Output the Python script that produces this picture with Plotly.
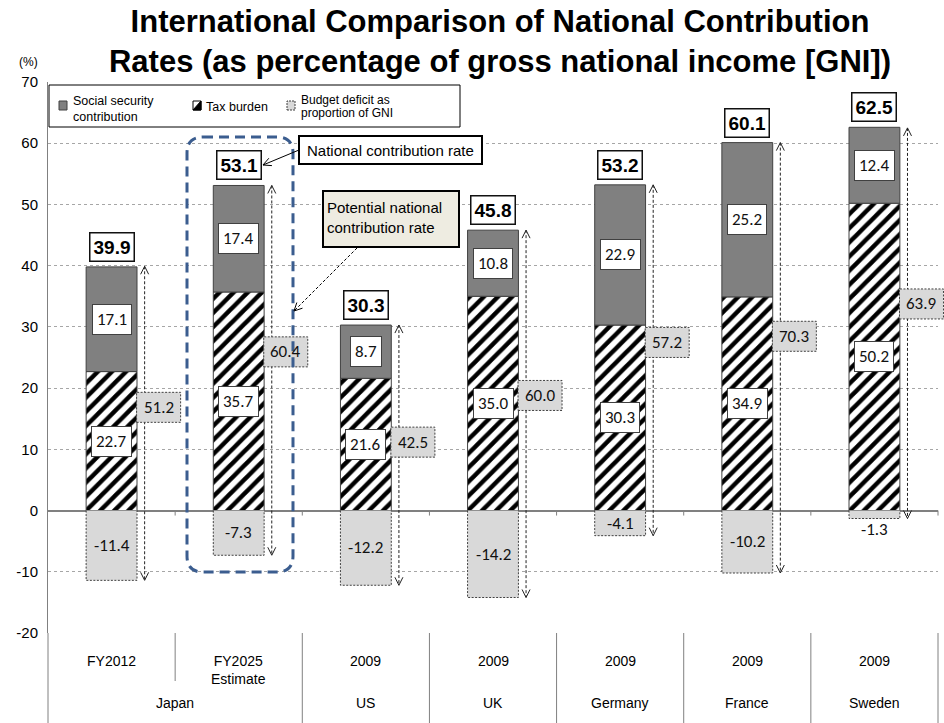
import plotly.graph_objects as go

# ---------------- data ----------------
groups = ["Japan", "US", "UK", "Germany", "France", "Sweden"]
group_span = [2, 1, 1, 1, 1, 1]
periods = ["FY2012", "FY2025<br>Estimate", "2009", "2009", "2009", "2009", "2009"]
tax_burden = [22.7, 35.7, 21.6, 35.0, 30.3, 34.9, 50.2]
social_security = [17.1, 17.4, 8.7, 10.8, 22.9, 25.2, 12.4]
budget_deficit = [-11.4, -7.3, -12.2, -14.2, -4.1, -10.2, -1.3]
national_rate = [39.9, 53.1, 30.3, 45.8, 53.2, 60.1, 62.5]
potential_rate = [51.2, 60.4, 42.5, 60.0, 57.2, 70.3, 63.9]
y_ticks = [-20, -10, 0, 10, 20, 30, 40, 50, 60, 70]

# ---------------- layout constants ----------------
FW, FH = 944, 723
ML, MR, MT, MB = 48, 6, 82, 90
PW, PH = FW - ML - MR, FH - MT - MB
YMIN, YMAX = -20, 70
N = len(periods)
XPU = PW / N                 # pixels per x unit
YPU = PH / (YMAX - YMIN)     # pixels per y unit
BAR_W = 0.4
ARROW_DX = 0.26
PLABEL_DX = 0.37

FONT = "Liberation Sans, Arial, sans-serif"
NUMFONT = "Carlito, Lato, Calibri, sans-serif"


def xpx(v):
    return ML + (v + 0.5) * XPU


def pxp(xp):
    return (xp - ML) / PW


def pyp(yp):
    return (MT + PH - yp) / PH


def P(xp, yp):
    return f"{pxp(xp):.5f},{pyp(yp):.5f}"


x = list(range(N))
fig = go.Figure()

# ---------------- bars ----------------
fig.add_bar(x=x, y=tax_burden, width=BAR_W, name="Tax burden",
            marker=dict(color="white",
                        pattern=dict(shape="/", fgcolor="black", bgcolor="white",
                                     size=10, solidity=0.45, fillmode="replace"),
                        line=dict(color="#404040", width=1)))
fig.add_bar(x=x, y=social_security, width=BAR_W, name="Social security contribution",
            marker=dict(color="#808080", line=dict(color="#404040", width=1)))
fig.add_bar(x=x, y=budget_deficit, width=BAR_W, name="Budget deficit as proportion of GNI",
            marker=dict(color="#d9d9d9", line=dict(width=0)))

# dotted outline of deficit bars
ox, oy = [], []
h = BAR_W / 2
for i, d in enumerate(budget_deficit):
    ox += [i - h, i - h, i + h, i + h, None]
    oy += [0, d, d, 0, None]
fig.add_scatter(x=ox, y=oy, mode="lines", hoverinfo="skip",
                line=dict(color="#404040", width=1, dash="2px,1.5px"))

# potential rate arrows (dashed shaft + open chevrons)
sx, sy, cxs, cys = [], [], [], []
cx, cy = 4 / XPU, 8 / YPU
for i in range(N):
    xa = i + ARROW_DX
    top, bot = national_rate[i], budget_deficit[i]
    sx += [xa, xa, None]
    sy += [top, bot, None]
    cxs += [xa - cx, xa, xa + cx, None, xa - cx, xa, xa + cx, None]
    cys += [top - cy, top, top - cy, None, bot + cy, bot, bot + cy, None]
fig.add_scatter(x=sx, y=sy, mode="lines", hoverinfo="skip",
                line=dict(color="#222222", width=1, dash="3px,2px"))
fig.add_scatter(x=cxs, y=cys, mode="lines", hoverinfo="skip",
                line=dict(color="#222222", width=1))

shapes = []
annotations = []


def ptext(txt, xp, yp, size=14, xanchor="center", yanchor="middle", family=FONT, **kw):
    annotations.append(dict(x=pxp(xp), y=pyp(yp), xref="paper", yref="paper",
                            showarrow=False, xanchor=xanchor, yanchor=yanchor, text=txt,
                            font=dict(family=family, size=size, color="black"), **kw))


# potential rate label boxes
for i in range(N):
    xc = xpx(i + PLABEL_DX)
    yc = national_rate[i] - 0.45 * potential_rate[i]
    ycp = MT + (YMAX - yc) * YPU
    shapes.append(dict(type="rect", xref="paper", yref="paper",
                       x0=pxp(xc - 22), x1=pxp(xc + 22), y0=pyp(ycp + 15), y1=pyp(ycp - 15),
                       fillcolor="#d9d9d9", line=dict(color="#404040", width=1, dash="2px,1.5px")))
    annotations.append(dict(x=i + PLABEL_DX, y=yc, xref="x", yref="y", showarrow=False,
                            xanchor="center", yanchor="middle",
                            text=f"{potential_rate[i]:.1f}",
                            font=dict(family=NUMFONT, size=17, color="#111")))

# segment value labels
for i in range(N):
    t, s, d = tax_burden[i], social_security[i], budget_deficit[i]
    for val, yv in ((t, t / 2), (s, t + s / 2)):
        annotations.append(dict(x=i, y=yv, xref="x", yref="y", showarrow=False,
                                xanchor="center", yanchor="middle",
                                text=f"{val:.1f}", bgcolor="white",
                                bordercolor="#404040", borderwidth=1, borderpad=4,
                                font=dict(family=NUMFONT, size=17, color="#111")))
    yd = d - 1.8 if abs(d) < 2 else d / 2
    annotations.append(dict(x=i, y=yd, xref="x", yref="y", showarrow=False,
                            xanchor="center", yanchor="middle",
                            text=f"{d:.1f}", font=dict(family=NUMFONT, size=17, color="#111")))
    annotations.append(dict(x=i, y=t + s, xref="x", yref="y", showarrow=False,
                            xanchor="center", yanchor="bottom", yshift=5,
                            text=f"<b>{national_rate[i]:.1f}</b>",
                            bgcolor="white", bordercolor="#111", borderwidth=1.5, borderpad=3,
                            font=dict(family=FONT, size=19, color="black")))

# zero-line tick marks at category boundaries
y0px = MT + YMAX * YPU
for b in range(N):
    xb = xpx(b + 0.5)
    shapes.append(dict(type="line", xref="paper", yref="paper",
                       x0=pxp(xb), x1=pxp(xb), y0=pyp(y0px), y1=pyp(y0px + 5),
                       line=dict(color="#808080", width=1)))

# category axis: dividers and labels
start = 0
bounds = [0]
for span in group_span:
    start += span
    bounds.append(start)
for b in bounds:
    xb = xpx(b - 0.5)
    shapes.append(dict(type="line", xref="paper", yref="paper",
                       x0=pxp(xb), x1=pxp(xb), y0=0, y1=pyp(FH),
                       line=dict(color="#808080", width=1)))
for b in range(1, N):
    if b not in bounds:
        xb = xpx(b - 0.5)
        shapes.append(dict(type="line", xref="paper", yref="paper",
                           x0=pxp(xb), x1=pxp(xb), y0=0, y1=pyp(681),
                           line=dict(color="#808080", width=1)))
for i, p in enumerate(periods):
    ptext(p, xpx(i), 651, size=14, yanchor="top")
for gi, g in enumerate(groups):
    c = (bounds[gi] + bounds[gi + 1] - 1) / 2
    ptext(g, xpx(c), 703, size=14)

# legend (drawn)
shapes.append(dict(type="rect", xref="paper", yref="paper",
                   x0=pxp(49), x1=pxp(460), y0=pyp(127), y1=pyp(85),
                   fillcolor="white", line=dict(color="black", width=1)))
shapes.append(dict(type="rect", xref="paper", yref="paper",
                   x0=pxp(59), x1=pxp(67), y0=pyp(110), y1=pyp(101),
                   fillcolor="#808080", line=dict(color="#404040", width=1)))
shapes.append(dict(type="rect", xref="paper", yref="paper",
                   x0=pxp(193), x1=pxp(201), y0=pyp(110), y1=pyp(101),
                   fillcolor="white", line=dict(color="black", width=1)))
shapes.append(dict(type="path", xref="paper", yref="paper",
                   path=f"M {P(193,110)} L {P(201,101)} L {P(201,110)} Z",
                   fillcolor="black", line=dict(color="black", width=1)))
shapes.append(dict(type="rect", xref="paper", yref="paper",
                   x0=pxp(287), x1=pxp(295), y0=pyp(110), y1=pyp(101),
                   fillcolor="#d9d9d9", line=dict(color="#404040", width=1, dash="2px,1px")))
ptext("Social security", 71, 101, size=12.5, xanchor="left")
ptext("contribution", 71, 117, size=12.5, xanchor="left")
ptext("Tax burden", 204, 107, size=12.5, xanchor="left")
ptext("Budget deficit as", 299, 100, size=12, xanchor="left")
ptext("proportion of GNI", 299, 113, size=12, xanchor="left")

# dashed rounded highlight around FY2025
x0, y0, x1, y1, r = 187, 137, 293, 572, 16
path = (f"M {P(x0 + r, y0)} L {P(x1 - r, y0)} Q {P(x1, y0)} {P(x1, y0 + r)} "
        f"L {P(x1, y1 - r)} Q {P(x1, y1)} {P(x1 - r, y1)} L {P(x0 + r, y1)} "
        f"Q {P(x0, y1)} {P(x0, y1 - r)} L {P(x0, y0 + r)} Q {P(x0, y0)} {P(x0 + r, y0)} Z")
shapes.append(dict(type="path", xref="paper", yref="paper", path=path,
                   line=dict(color="#3b5d8f", width=3, dash="10px,6px")))


def chevron_path(tx, ty, fx, fy, ln=8, wd=4):
    dx, dy = tx - fx, ty - fy
    n = (dx * dx + dy * dy) ** 0.5
    ux, uy = dx / n, dy / n
    px_, py_ = -uy, ux
    a = (tx - ln * ux + wd * px_, ty - ln * uy + wd * py_)
    b = (tx - ln * ux - wd * px_, ty - ln * uy - wd * py_)
    return f"M {P(*a)} L {P(tx, ty)} L {P(*b)}"


# callout: National contribution rate
shapes.append(dict(type="line", xref="paper", yref="paper",
                   x0=pxp(299), y0=pyp(150), x1=pxp(263), y1=pyp(165),
                   line=dict(color="black", width=1)))
shapes.append(dict(type="path", xref="paper", yref="paper",
                   path=chevron_path(263, 165, 299, 150), line=dict(color="black", width=1)))
shapes.append(dict(type="rect", xref="paper", yref="paper",
                   x0=pxp(299), x1=pxp(482), y0=pyp(164), y1=pyp(136),
                   fillcolor="white", line=dict(color="black", width=2)))
ptext("National contribution rate", 390.5, 150, size=15)

# callout: Potential national contribution rate
shapes.append(dict(type="line", xref="paper", yref="paper",
                   x0=pxp(357), y0=pyp(248), x1=pxp(294), y1=pyp(311),
                   line=dict(color="black", width=1, dash="3px,2px")))
shapes.append(dict(type="path", xref="paper", yref="paper",
                   path=chevron_path(294, 311, 357, 248), line=dict(color="black", width=1)))
shapes.append(dict(type="rect", xref="paper", yref="paper",
                   x0=pxp(323), x1=pxp(459), y0=pyp(247), y1=pyp(191),
                   fillcolor="#eeece1", line=dict(color="black", width=2)))
ptext("Potential national<br>contribution rate", 325, 218, size=15,
      xanchor="left", align="left")

# unit label
ptext("(%)", 28, 62, size=12)

fig.update_layout(
    width=FW, height=FH,
    margin=dict(l=ML, r=MR, t=MT, b=MB),
    plot_bgcolor="white", paper_bgcolor="white",
    showlegend=False, barmode="relative",
    title=dict(text="<b>International Comparison of National Contribution<br>"
                    "Rates (as percentage of gross national income [GNI])</b>",
               x=500 / FW, xref="container", xanchor="center",
               y=1 - 32 / FH, yref="container", yanchor="top",
               font=dict(family=FONT, size=31, color="black")),
    xaxis=dict(range=[-0.5, N - 0.5], showgrid=False, zeroline=False,
               showticklabels=False, showline=False, fixedrange=True),
    yaxis=dict(range=[YMIN, YMAX], tickvals=y_ticks, ticktext=[str(v) for v in y_ticks],
               showgrid=True, gridcolor="#a6a6a6", griddash="dot", gridwidth=1,
               zeroline=True, zerolinecolor="#808080", zerolinewidth=2,
               showline=True, linecolor="#808080", linewidth=1, ticks="",
               ticklabelstandoff=6, tickfont=dict(family=FONT, size=15, color="black"),
               fixedrange=True),
    shapes=shapes, annotations=annotations,
)

fig.write_html("out.html", config={"displayModeBar": False},
               post_script="document.body.style.margin='0';document.body.style.overflow='hidden';")
